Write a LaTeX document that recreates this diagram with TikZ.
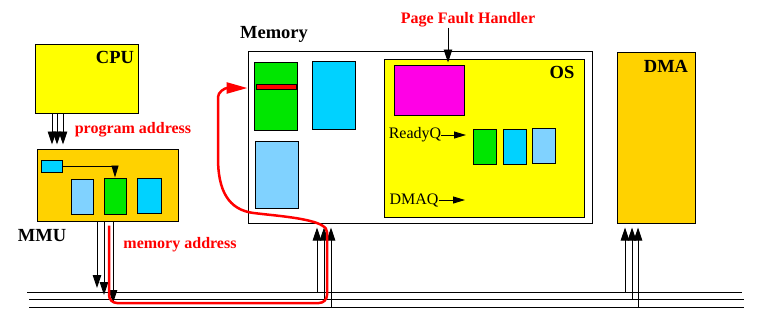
\documentclass[tikz,border=0pt]{standalone}
\usepackage{fontspec}
\setmainfont{Liberation Serif}
\usetikzlibrary{arrows.meta,fit}
\definecolor{cyel}{HTML}{FFFF00}
\definecolor{cgold}{HTML}{FFD200}
\definecolor{cgreen}{HTML}{00E600}
\definecolor{ccyan}{HTML}{00D2FF}
\definecolor{clblue}{HTML}{80D2FF}
\definecolor{cmag}{HTML}{FF00E6}
\definecolor{cred}{HTML}{FF0000}
\begin{document}
\begin{tikzpicture}[x=1pt,y=-1pt,
  box/.style={draw=black, line width=1pt, inner sep=0pt},
  big/.style={font=\fontsize{18.5}{20}\selectfont\bfseries, inner sep=0pt},
  redlbl/.style={font=\fontsize{16}{18}\selectfont\bfseries, text=cred, inner sep=0pt},
  qlbl/.style={font=\fontsize{16}{18}\selectfont, inner sep=0pt},
  arr/.style={line width=0.9pt, shorten >=4pt, -{Triangle[length=13pt,width=8.5pt]}},
  sarr/.style={line width=0.9pt, -{Triangle[length=12pt,width=7pt]}},
  busline/.style={line width=1pt},
  redpath/.style={draw=cred, line width=2.5pt, -{Triangle[length=21pt,width=11pt]}}]
\useasboundingbox (0,0) rectangle (762,330);

% CPU
\node[box, fill=cyel, fit={(35,44)(138,113)}] (cpu) {};
\node[big] (cpulbl) at (115,57) {CPU};

% MMU
\node[box, fill=cgold, fit={(37,149)(178,221)}] (mmu) {};
\node[big] (mmulbl) at (42,236) {MMU};
\node[box, fill=ccyan, fit={(41,160)(62,172)}] (tlb) {};
\node[box, fill=clblue, fit={(71,179)(93,214)}] (m1) {};
\node[box, fill=cgreen, fit={(104,178)(126,214)}] (m2) {};
\node[box, fill=ccyan, fit={(137,178)(161,213)}] (m3) {};
\draw[sarr] (tlb.east) -| (115,0 |- m2.north);

% labels
\node[redlbl] (pa) at (133,130) {program address};
\node[redlbl] (ma) at (180,245) {memory address};

% Memory
\node[box, fill=white, fit={(248,51)(592,223)}] (mem) {};
\node[big] (memlbl) at (274,34) {Memory};
\node[box, fill=cgreen, fit={(254,62)(297,130)}] (pg1) {};
\node[box, fill=cred, fit={(256,84)(296,89)}] (pgline) {};
\node[box, fill=ccyan, fit={(312,61)(355,129)}] (pg2) {};
\node[box, fill=clblue, fit={(255,141)(298,208)}] (pg3) {};

% OS
\node[box, fill=cyel, fit={(384,59)(584,217)}] (os) {};
\node[big] (oslbl) at (562,72) {OS};
\node[box, fill=cmag, fit={(394,65)(464,115)}] (pfhbox) {};
\node[redlbl] (pfh) at (468,20) {Page Fault Handler};
\draw[arr, shorten >=2pt] (448,0 |- pfh.south) -- (448,0 |- pfhbox.north);

\node[qlbl] (rq) at (415,135) {ReadyQ};
\coordinate (rqend) at (466,135);
\draw[sarr] (rq.east) -- (rqend);
\node[box, fill=cgreen, fit={(473,129)(496,164)}] (q1) {};
\node[box, fill=ccyan, fit={(503,129)(526,164)}] (q2) {};
\node[box, fill=clblue, fit={(532,128)(555,163)}] (q3) {};

\node[qlbl] (dq) at (414,200) {DMAQ};
\coordinate (dqend) at (465,200);
\draw[sarr] (dq.east) -- (dqend);

% DMA
\node[box, fill=cgold, fit={(617,52)(695,223)}] (dma) {};
\node[big] (dmalbl) at (666,66) {DMA};

% bus
\coordinate (b1l) at (27,292); \coordinate (b1r) at (742,292);
\coordinate (b2l) at (29,299); \coordinate (b2r) at (744,299);
\coordinate (b3l) at (29,307); \coordinate (b3r) at (744,307);
\draw[busline] (b1l) -- (b1r);
\draw[busline] (b2l) -- (b2r);
\draw[busline] (b3l) -- (b3r);

% CPU -> MMU
\foreach \x in {52,57,63}
  \draw[arr] (\x,0 |- cpu.south) -- (\x,0 |- mmu.north);

% MMU -> bus
\draw[arr] (97,0 |- mmu.south) -- (97,0 |- b1l);
\draw[arr] (104,0 |- mmu.south) -- (104,0 |- b2l);
\draw[arr] (113,0 |- mmu.south) -- (113,0 |- b3l);

% bus -> Memory
\draw[arr] (317,0 |- b1l) -- (317,0 |- mem.south);
\draw[arr] (324,0 |- b2l) -- (324,0 |- mem.south);
\draw[arr] (331,0 |- b3l) -- (331,0 |- mem.south);

% bus -> DMA
\draw[arr] (625,0 |- b1l) -- (625,0 |- dma.south);
\draw[arr] (632,0 |- b2l) -- (632,0 |- dma.south);
\draw[arr] (638,0 |- b3l) -- (638,0 |- dma.south);

% red path
\draw[redpath, rounded corners=8pt] (109,0 |- mmu.south) ++(0,4) -- (109,303) -- (327,303) -- (327,240)
  .. controls (327,222) and (300,218) .. (262,214)
  .. controls (228,210) and (218,190) .. (218,150)
  -- (218,105) .. controls (218,92) and (225,88) .. (mem.west |- 0,88);
\end{tikzpicture}
\end{document}
